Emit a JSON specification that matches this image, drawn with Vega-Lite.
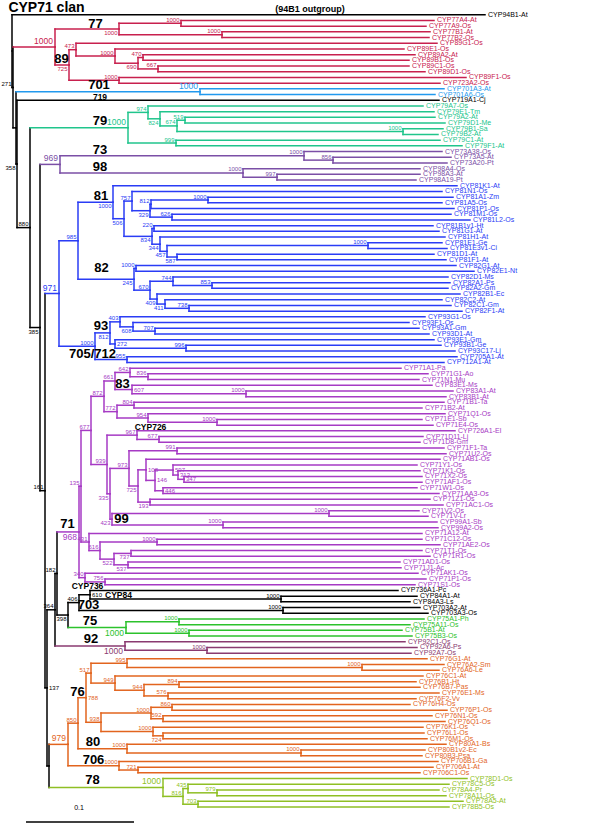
{
"$schema":"https://vega.github.io/schema/vega-lite/v6.json",
"width":592,"height":824,"padding":0,
"autosize":{"type":"fit","contains":"padding"},
"config":{"view":{"stroke":null},"text":{"font":"Liberation Sans"}},
"datasets":{
"nodes":[
{"id":"R","p":null,"x":12,"y":6.37,"c":"k"},
{"id":"L0","p":"R","x":485,"y":0,"c":"k","lab":"CYP94B1-At"},
{"id":"A","p":"R","x":13,"y":12.75,"c":"k","bs":"271"},
{"id":"B","p":"A","x":16,"y":19.84,"c":"k"},
{"id":"C","p":"B","x":17,"y":26.17,"c":"k","bs":"358","below":true},
{"id":"N880","p":"C","x":30,"y":37.34,"c":"k","bs":"880"},
{"id":"N385","p":"N880","x":40,"y":54.87,"c":"k","bs":"385","below":true},
{"id":"N161","p":"N385","x":45,"y":83.49,"c":"k","bs":"161"},
{"id":"N137","p":"N161","x":47,"y":118.08,"c":"k","bs":"137","side":"r"},
{"id":"N364","p":"N137","x":55,"y":104.39,"c":"k","bs":"364"},
{"id":"N182","p":"N364","x":57,"y":98.02,"c":"k","bs":"182"},
{"id":"J","p":"N137","x":49,"y":131.78,"c":"k"},

{"id":"nRed","p":"A","x":55,"y":5.656,"c":"r","bs":"1000","root":true},
{"id":"n77","p":"nRed","x":119,"y":2.5,"c":"r","bs":"1000","below":true},
{"id":"n77A","p":"n77","x":181,"y":1.5,"c":"r","bs":"1000"},
{"id":"n77B","p":"n77","x":222,"y":3.5,"c":"r","bs":"1000"},
{"id":"n725","p":"nRed","x":69,"y":8.8125,"c":"r","bs":"725","below":true},
{"id":"n473","p":"n725","x":76,"y":6.125,"c":"r","bs":"473"},
{"id":"n1000c","p":"n473","x":115,"y":7.25,"c":"r","bs":"1000"},
{"id":"n690","p":"n1000c","x":138,"y":8.5,"c":"r","bs":"690","below":true},
{"id":"n470","p":"n690","x":143,"y":7.5,"c":"r","bs":"470"},
{"id":"n667","p":"n690","x":158,"y":9.5,"c":"r","bs":"667"},
{"id":"n1000b","p":"n725","x":119,"y":11.5,"c":"r","bs":"1000"},
{"id":"L1","p":"n77A","x":434,"y":1,"c":"r","lab":"CYP77A4-At"},
{"id":"L2","p":"n77A","x":426,"y":2,"c":"r","lab":"CYP77A9-Os"},
{"id":"L3","p":"n77B","x":430,"y":3,"c":"r","lab":"CYP77B1-At"},
{"id":"L4","p":"n77B","x":429,"y":4,"c":"r","lab":"CYP77B2-Os"},
{"id":"L5","p":"n473","x":437,"y":5,"c":"r","lab":"CYP89G1-Os"},
{"id":"L6","p":"n1000c","x":404,"y":6,"c":"r","lab":"CYP89E1-Os"},
{"id":"L7","p":"n470","x":415,"y":7,"c":"r","lab":"CYP89A2-At"},
{"id":"L8","p":"n470","x":409,"y":8,"c":"r","lab":"CYP89B1-Os"},
{"id":"L9","p":"n667","x":409,"y":9,"c":"r","lab":"CYP89C1-Os"},
{"id":"L10","p":"n667","x":425,"y":10,"c":"r","lab":"CYP89D1-Os"},
{"id":"L11","p":"n1000b","x":466,"y":11,"c":"r","lab":"CYP89F1-Os"},
{"id":"L12","p":"n1000b","x":440,"y":12,"c":"r","lab":"CYP723A2-Os"},

{"id":"n701","p":"B","x":200,"y":13.5,"c":"b701","bs":"1000","root":true},
{"id":"L13","p":"n701","x":444,"y":13,"c":"b701","lab":"CYP701A3-At"},
{"id":"L14","p":"n701","x":435,"y":14,"c":"b701","lab":"CYP701A6-Os"},
{"id":"L15","p":"C","x":439,"y":15,"c":"k","lab":"CYP719A1-Cj"},

{"id":"n79","p":"N880","x":128,"y":19.8125,"c":"g79","bs":"1000","root":true},
{"id":"n974","p":"n79","x":148,"y":17.125,"c":"g79","bs":"974"},
{"id":"n824","p":"n974","x":160,"y":18.25,"c":"g79","bs":"824","below":true},
{"id":"n674","p":"n824","x":177,"y":19.5,"c":"g79","bs":"674"},
{"id":"n519","p":"n674","x":185,"y":18.5,"c":"g79","bs":"519"},
{"id":"n79B","p":"n674","x":403,"y":20.5,"c":"g79","bs":"1000"},
{"id":"n999","p":"n79","x":176,"y":22.5,"c":"g79","bs":"999"},
{"id":"L16","p":"n974","x":423,"y":16,"c":"g79","lab":"CYP79A7-Os"},
{"id":"L17","p":"n824","x":434,"y":17,"c":"g79","lab":"CYP79E1-Tm"},
{"id":"L18","p":"n519","x":435,"y":18,"c":"g79","lab":"CYP79A2-At"},
{"id":"L19","p":"n519","x":445,"y":19,"c":"g79","lab":"CYP79D1-Me"},
{"id":"L20","p":"n79B","x":443,"y":20,"c":"g79","lab":"CYP79B1-Sa"},
{"id":"L21","p":"n79B","x":438,"y":21,"c":"g79","lab":"CYP79B2-At"},
{"id":"L22","p":"n999","x":440,"y":22,"c":"g79","lab":"CYP79C1-At"},
{"id":"L23","p":"n999","x":462,"y":23,"c":"g79","lab":"CYP79F1-At"},

{"id":"n969","p":"N385","x":60,"y":26.25,"c":"p73","bs":"969","root":true},
{"id":"n73","p":"n969","x":304,"y":24.75,"c":"p73","bs":"1000"},
{"id":"n856","p":"n73","x":333,"y":25.5,"c":"p73","bs":"856"},
{"id":"n98","p":"n969","x":243,"y":27.75,"c":"p73","bs":"1000"},
{"id":"n997","p":"n98","x":277,"y":28.5,"c":"p73","bs":"997"},
{"id":"L24","p":"n73","x":442,"y":24,"c":"p73","lab":"CYP73A38-Os"},
{"id":"L25","p":"n856","x":451,"y":25,"c":"p73","lab":"CYP73A5-At"},
{"id":"L26","p":"n856","x":447,"y":26,"c":"p73","lab":"CYP73A20-Pt"},
{"id":"L27","p":"n98","x":420,"y":27,"c":"p73","lab":"CYP98A4-Os"},
{"id":"L28","p":"n997","x":420,"y":28,"c":"p73","lab":"CYP98A3-At"},
{"id":"L29","p":"n997","x":416,"y":29,"c":"p73","lab":"CYP98A19-Pt"},

{"id":"n971","p":"N161","x":59,"y":48.9,"c":"blue","bs":"971","root":true},
{"id":"n985","p":"n971","x":78,"y":39.65,"c":"blue","bs":"985"},
{"id":"n81","p":"n985","x":113,"y":32.89,"c":"blue","bs":"1000","below":true},
{"id":"n506","p":"n81","x":124,"y":35.78,"c":"blue","bs":"506","below":true},
{"id":"n757","p":"n506","x":132,"y":32.6875,"c":"blue","bs":"757"},
{"id":"n329","p":"n757","x":150,"y":34.375,"c":"blue","bs":"329","below":true},
{"id":"n812","p":"n329","x":151,"y":33.25,"c":"blue","bs":"812"},
{"id":"n1000a","p":"n812","x":208,"y":32.5,"c":"blue","bs":"1000"},
{"id":"n626","p":"n329","x":172,"y":35.5,"c":"blue","bs":"626"},
{"id":"n834","p":"n506","x":152,"y":38.875,"c":"blue","bs":"834","below":true},
{"id":"n220","p":"n834","x":154,"y":37.5,"c":"blue","bs":"220"},
{"id":"n344","p":"n834","x":160,"y":40.25,"c":"blue","bs":"344","below":true},
{"id":"n457","p":"n344","x":167,"y":41.5,"c":"blue","bs":"457","below":true},
{"id":"n1000E","p":"n457","x":368,"y":40.5,"c":"blue","bs":"1000"},
{"id":"n587","p":"n457","x":177,"y":42.5,"c":"blue","bs":"587","below":true},
{"id":"n245","p":"n985","x":134,"y":46.41,"c":"blue","bs":"245","below":true},
{"id":"n82G","p":"n245","x":136,"y":44.5,"c":"blue","bs":"1000"},
{"id":"n670","p":"n245","x":150,"y":48.3125,"c":"blue","bs":"670"},
{"id":"n744","p":"n670","x":173,"y":46.75,"c":"blue","bs":"744"},
{"id":"n853","p":"n744","x":212,"y":47.5,"c":"blue","bs":"853"},
{"id":"n409","p":"n670","x":157,"y":49.875,"c":"blue","bs":"409","below":true},
{"id":"n411","p":"n409","x":165,"y":50.75,"c":"blue","bs":"411","below":true},
{"id":"n738","p":"n411","x":189,"y":51.5,"c":"blue","bs":"738"},
{"id":"n1000d","p":"n971","x":95,"y":58.16,"c":"blue","bs":"1000"},
{"id":"n812b","p":"n1000d","x":110,"y":55.81,"c":"blue","bs":"812","below":true},
{"id":"n403","p":"n812b","x":120,"y":53.875,"c":"blue","bs":"403"},
{"id":"n608","p":"n403","x":133,"y":54.75,"c":"blue","bs":"608","below":true},
{"id":"n707","p":"n608","x":155,"y":55.5,"c":"blue","bs":"707"},
{"id":"n272","p":"n812b","x":115,"y":57.75,"c":"blue","bs":"272","side":"r"},
{"id":"n996","p":"n272","x":186,"y":58.5,"c":"blue","bs":"996"},
{"id":"n955","p":"n1000d","x":127,"y":60.5,"c":"blue","bs":"955"},
{"id":"L30","p":"n81","x":457,"y":30,"c":"blue","lab":"CYP81K1-At"},
{"id":"L31","p":"n757","x":442,"y":31,"c":"blue","lab":"CYP81N1-Os"},
{"id":"L32","p":"n1000a","x":453,"y":32,"c":"blue","lab":"CYP81A1-Zm"},
{"id":"L33","p":"n1000a","x":442,"y":33,"c":"blue","lab":"CYP81A5-Os"},
{"id":"L34","p":"n812","x":454,"y":34,"c":"blue","lab":"CYP81P1-Os"},
{"id":"L35","p":"n626","x":451,"y":35,"c":"blue","lab":"CYP81M1-Os"},
{"id":"L36","p":"n626","x":470,"y":36,"c":"blue","lab":"CYP81L2-Os"},
{"id":"L37","p":"n220","x":433,"y":37,"c":"blue","lab":"CYP81B1v1-Ht"},
{"id":"L38","p":"n220","x":439,"y":38,"c":"blue","lab":"CYP81G1-At"},
{"id":"L39","p":"n344","x":445,"y":39,"c":"blue","lab":"CYP81H1-At"},
{"id":"L40","p":"n1000E","x":442,"y":40,"c":"blue","lab":"CYP81E1-Ge"},
{"id":"L41","p":"n1000E","x":447,"y":41,"c":"blue","lab":"CYP81E3v1-Ci"},
{"id":"L42","p":"n587","x":434,"y":42,"c":"blue","lab":"CYP81D1-At"},
{"id":"L43","p":"n587","x":446,"y":43,"c":"blue","lab":"CYP81F1-At"},
{"id":"L44","p":"n82G","x":456,"y":44,"c":"blue","lab":"CYP82G1-At"},
{"id":"L45","p":"n82G","x":474,"y":45,"c":"blue","lab":"CYP82E1-Nt"},
{"id":"L46","p":"n744","x":448,"y":46,"c":"blue","lab":"CYP82D1-Ms"},
{"id":"L47","p":"n853","x":450,"y":47,"c":"blue","lab":"CYP82A1-Ps"},
{"id":"L48","p":"n853","x":448,"y":48,"c":"blue","lab":"CYP82A2-Gm"},
{"id":"L49","p":"n409","x":460,"y":49,"c":"blue","lab":"CYP82B1-Ec"},
{"id":"L50","p":"n411","x":442,"y":50,"c":"blue","lab":"CYP82C2-At"},
{"id":"L51","p":"n738","x":451,"y":51,"c":"blue","lab":"CYP82C1-Gm"},
{"id":"L52","p":"n738","x":462,"y":52,"c":"blue","lab":"CYP82F1-At"},
{"id":"L53","p":"n403","x":425,"y":53,"c":"blue","lab":"CYP93G1-Os"},
{"id":"L54","p":"n608","x":409,"y":54,"c":"blue","lab":"CYP93F1-Os"},
{"id":"L55","p":"n707","x":419,"y":55,"c":"blue","lab":"CYP93A1-Gm"},
{"id":"L56","p":"n707","x":429,"y":56,"c":"blue","lab":"CYP93D1-At"},
{"id":"L57","p":"n272","x":434,"y":57,"c":"blue","lab":"CYP93E1-Gm"},
{"id":"L58","p":"n996","x":441,"y":58,"c":"blue","lab":"CYP93B1-Ge"},
{"id":"L59","p":"n996","x":455,"y":59,"c":"blue","lab":"CYP93C17-Lj"},
{"id":"L60","p":"n955","x":457,"y":60,"c":"blue","lab":"CYP705A1-At"},
{"id":"L61","p":"n955","x":444,"y":61,"c":"blue","lab":"CYP712A1-At"},

{"id":"n968","p":"N182","x":79,"y":90.73,"c":"m71","bs":"968","root":true,"below":true},
{"id":"n135","p":"n968","x":81,"y":82.71,"c":"m71","bs":"135"},
{"id":"n677","p":"n135","x":91,"y":72.92,"c":"m71","bs":"677"},
{"id":"n872","p":"n677","x":104,"y":66.9375,"c":"m71","bs":"872"},
{"id":"n661","p":"n872","x":115,"y":64.25,"c":"m71","bs":"661"},
{"id":"n642","p":"n661","x":130,"y":62.75,"c":"m71","bs":"642"},
{"id":"n836","p":"n642","x":148,"y":63.5,"c":"m71","bs":"836"},
{"id":"n607","p":"n661","x":132,"y":65.75,"c":"m71","bs":"607","side":"r"},
{"id":"n83A","p":"n607","x":246,"y":66.5,"c":"m71","bs":"1000"},
{"id":"n772","p":"n872","x":117,"y":69.625,"c":"m71","bs":"772"},
{"id":"n804","p":"n772","x":134,"y":68.5,"c":"m71","bs":"804"},
{"id":"n954","p":"n772","x":148,"y":70.75,"c":"m71","bs":"954"},
{"id":"n1000e","p":"n954","x":217,"y":71.5,"c":"m71","bs":"1000"},
{"id":"n939","p":"n677","x":107,"y":78.9,"c":"m71","bs":"939"},
{"id":"n967","p":"n939","x":137,"y":73.75,"c":"m71","bs":"967"},
{"id":"n677b","p":"n967","x":159,"y":74.5,"c":"m71","bs":"677"},
{"id":"n335","p":"n939","x":110,"y":84.04,"c":"m71","bs":"335","below":true},
{"id":"n973","p":"n335","x":129,"y":79.585,"c":"m71","bs":"973"},
{"id":"n991","p":"n973","x":177,"y":76.5,"c":"m71","bs":"991"},
{"id":"n725b","p":"n973","x":138,"y":82.67,"c":"m71","bs":"725","below":true},
{"id":"n108","p":"n725b","x":146,"y":79.84,"c":"m71","bs":"108","side":"r"},
{"id":"n146","p":"n108","x":155,"y":81.6875,"c":"m71","bs":"146","side":"r"},
{"id":"n597","p":"n146","x":173,"y":79.875,"c":"m71","bs":"597","side":"r"},
{"id":"n313","p":"n597","x":178,"y":80.75,"c":"m71","bs":"313","side":"r"},
{"id":"n347","p":"n313","x":184,"y":81.5,"c":"m71","bs":"347","side":"r"},
{"id":"n446","p":"n146","x":163,"y":83.5,"c":"m71","bs":"446","side":"r"},
{"id":"n193","p":"n725b","x":150,"y":85.5,"c":"m71","bs":"193","below":true},
{"id":"n423","p":"n335","x":112,"y":88.5,"c":"m71","bs":"423","below":true},
{"id":"n99V","p":"n423","x":329,"y":87.5,"c":"m71","bs":"1000"},
{"id":"n99","p":"n423","x":223,"y":89.5,"c":"m71","bs":"1000"},
{"id":"n431","p":"n135","x":89,"y":92.5,"c":"m71","bs":"431"},
{"id":"n616","p":"n431","x":100,"y":94,"c":"m71","bs":"616"},
{"id":"n1000h","p":"n616","x":157,"y":92.5,"c":"m71","bs":"1000"},
{"id":"n522","p":"n616","x":114,"y":95.5,"c":"m71","bs":"522","below":true},
{"id":"n737","p":"n522","x":131,"y":94.5,"c":"m71","bs":"737","below":true},
{"id":"n537","p":"n522","x":128,"y":96.5,"c":"m71","bs":"537","below":true},
{"id":"n340","p":"n968","x":85,"y":98.75,"c":"m71","bs":"340"},
{"id":"n756","p":"n340","x":105,"y":99.5,"c":"m71","bs":"756"},
{"id":"L62","p":"n642","x":401,"y":62,"c":"m71","lab":"CYP71A1-Pa"},
{"id":"L63","p":"n836","x":428,"y":63,"c":"m71","lab":"CYP71G1-Ao"},
{"id":"L64","p":"n836","x":419,"y":64,"c":"m71","lab":"CYP71N1-Mu"},
{"id":"L65","p":"n607","x":432,"y":65,"c":"m71","lab":"CYP83E1-Ms"},
{"id":"L66","p":"n83A","x":453,"y":66,"c":"m71","lab":"CYP83A1-At"},
{"id":"L67","p":"n83A","x":446,"y":67,"c":"m71","lab":"CYP83B1-At"},
{"id":"L68","p":"n804","x":444,"y":68,"c":"m71","lab":"CYP71B1-Ta"},
{"id":"L69","p":"n804","x":422,"y":69,"c":"m71","lab":"CYP71B2-At"},
{"id":"L70","p":"n954","x":445,"y":70,"c":"m71","lab":"CYP71Q1-Os"},
{"id":"L71","p":"n1000e","x":422,"y":71,"c":"m71","lab":"CYP71E1-Sb"},
{"id":"L72","p":"n1000e","x":433,"y":72,"c":"m71","lab":"CYP71E4-Os"},
{"id":"L73","p":"n967","x":455,"y":73,"c":"m71","lab":"CYP726A1-El"},
{"id":"L74","p":"n677b","x":423,"y":74,"c":"m71","lab":"CYP71D11-Lj"},
{"id":"L75","p":"n677b","x":420,"y":75,"c":"m71","lab":"CYP71D8-Gm"},
{"id":"L76","p":"n991","x":444,"y":76,"c":"m71","lab":"CYP71F1-Ta"},
{"id":"L77","p":"n991","x":446,"y":77,"c":"m71","lab":"CYP71U2-Os"},
{"id":"L78","p":"n108","x":440,"y":78,"c":"m71","lab":"CYP71AB1-Os"},
{"id":"L79","p":"n597","x":417,"y":79,"c":"m71","lab":"CYP71Y1-Os"},
{"id":"L80","p":"n313","x":420,"y":80,"c":"m71","lab":"CYP71K1-Os"},
{"id":"L81","p":"n347","x":422,"y":81,"c":"m71","lab":"CYP71X2-Os"},
{"id":"L82","p":"n347","x":422,"y":82,"c":"m71","lab":"CYP71AF1-Os"},
{"id":"L83","p":"n446","x":417,"y":83,"c":"m71","lab":"CYP71W1-Os"},
{"id":"L84","p":"n446","x":439,"y":84,"c":"m71","lab":"CYP71AA3-Os"},
{"id":"L85","p":"n193","x":430,"y":85,"c":"m71","lab":"CYP71Z1-Os"},
{"id":"L86","p":"n193","x":443,"y":86,"c":"m71","lab":"CYP71AC1-Os"},
{"id":"L87","p":"n99V","x":419,"y":87,"c":"m71","lab":"CYP71V2-Os"},
{"id":"L88","p":"n99V","x":428,"y":88,"c":"m71","lab":"CYP71V-Lr"},
{"id":"L89","p":"n99","x":437,"y":89,"c":"m71","lab":"CYP99A1-Sb"},
{"id":"L90","p":"n99","x":438,"y":90,"c":"m71","lab":"CYP99A2-Os"},
{"id":"L91","p":"n431","x":422,"y":91,"c":"m71","lab":"CYP71A12-At"},
{"id":"L92","p":"n1000h","x":422,"y":92,"c":"m71","lab":"CYP71C12-Os"},
{"id":"L93","p":"n1000h","x":440,"y":93,"c":"m71","lab":"CYP71AE2-Os"},
{"id":"L94","p":"n737","x":422,"y":94,"c":"m71","lab":"CYP71T1-Os"},
{"id":"L95","p":"n737","x":430,"y":95,"c":"m71","lab":"CYP71R1-Os"},
{"id":"L96","p":"n537","x":400,"y":96,"c":"m71","lab":"CYP71AD1-Os"},
{"id":"L97","p":"n537","x":401,"y":97,"c":"m71","lab":"CYP71J1-Ac"},
{"id":"L98","p":"n340","x":418,"y":98,"c":"m71","lab":"CYP71AK1-Os"},
{"id":"L99","p":"n756","x":426,"y":99,"c":"m71","lab":"CYP71P1-Os"},
{"id":"L100","p":"n756","x":415,"y":100,"c":"m71","lab":"CYP71S1-Os"},

{"id":"n398","p":"N182","x":68,"y":105.31,"c":"k","bs":"398","below":true},
{"id":"n406","p":"n398","x":79,"y":103.125,"c":"k","bs":"406"},
{"id":"n610","p":"n406","x":90,"y":101.75,"c":"k","bs":"610","side":"r"},
{"id":"n84","p":"n610","x":281,"y":102.5,"c":"k","bs":"1000"},
{"id":"n703","p":"n406","x":283,"y":104.5,"c":"k","bs":"1000"},
{"id":"L101","p":"n610","x":398,"y":101,"c":"k","lab":"CYP736A1-Pc"},
{"id":"L102","p":"n84","x":417,"y":102,"c":"k","lab":"CYP84A1-At"},
{"id":"L103","p":"n84","x":410,"y":103,"c":"k","lab":"CYP84A3-Ls"},
{"id":"L104","p":"n703","x":420,"y":104,"c":"k","lab":"CYP703A2-At"},
{"id":"L105","p":"n703","x":428,"y":105,"c":"k","lab":"CYP703A3-Os"},

{"id":"n75","p":"n398","x":126,"y":107.5,"c":"g75","bs":"1000","root":true,"below":true},
{"id":"n75A","p":"n75","x":179,"y":106.5,"c":"g75","bs":"1000"},
{"id":"n75B","p":"n75","x":189,"y":108.5,"c":"g75","bs":"1000"},
{"id":"L106","p":"n75A","x":424,"y":106,"c":"g75","lab":"CYP75A1-Ph"},
{"id":"L107","p":"n75A","x":410,"y":107,"c":"g75","lab":"CYP75A11-Os"},
{"id":"L108","p":"n75B","x":402,"y":108,"c":"g75","lab":"CYP75B1-At"},
{"id":"L109","p":"n75B","x":412,"y":109,"c":"g75","lab":"CYP75B3-Os"},

{"id":"n92","p":"N364","x":125,"y":110.75,"c":"m92","bs":"1000","root":true,"below":true},
{"id":"n92A","p":"n92","x":207,"y":111.5,"c":"m92","bs":"1000"},
{"id":"L110","p":"n92","x":405,"y":110,"c":"m92","lab":"CYP92C1-Os"},
{"id":"L111","p":"n92A","x":417,"y":111,"c":"m92","lab":"CYP92A6-Ps"},
{"id":"L112","p":"n92A","x":411,"y":112,"c":"m92","lab":"CYP92A7-Os"},

{"id":"n979","p":"J","x":68,"y":128.0,"c":"o76","bs":"979","root":true},
{"id":"n850","p":"n979","x":78,"y":124.28,"c":"o76","bs":"850"},
{"id":"n788","p":"n850","x":86,"y":119.81,"c":"o76","bs":"788","side":"r"},
{"id":"n517","p":"n788","x":91,"y":115.5,"c":"o76","bs":"517"},
{"id":"n995","p":"n517","x":127,"y":113.75,"c":"o76","bs":"995"},
{"id":"n76A","p":"n995","x":362,"y":114.5,"c":"o76","bs":"1000"},
{"id":"n949","p":"n517","x":115,"y":117.25,"c":"o76","bs":"949"},
{"id":"n944","p":"n949","x":144,"y":118.5,"c":"o76","bs":"944"},
{"id":"n894","p":"n944","x":179,"y":117.5,"c":"o76","bs":"894"},
{"id":"n576","p":"n944","x":168,"y":119.5,"c":"o76","bs":"576"},
{"id":"n938","p":"n788","x":101,"y":124.125,"c":"o76","bs":"938"},
{"id":"n1000f","p":"n938","x":151,"y":122.5,"c":"o76","bs":"1000"},
{"id":"n860","p":"n1000f","x":172,"y":121.5,"c":"o76","bs":"860"},
{"id":"n592","p":"n1000f","x":163,"y":123.5,"c":"o76","bs":"592"},
{"id":"n1000g","p":"n938","x":153,"y":125.75,"c":"o76","bs":"1000"},
{"id":"n724","p":"n1000g","x":163,"y":126.5,"c":"o76","bs":"724","below":true},
{"id":"n80","p":"n850","x":127,"y":128.75,"c":"o76","bs":"1000"},
{"id":"n80B","p":"n80","x":301,"y":129.5,"c":"o76","bs":"1000"},
{"id":"n706","p":"n979","x":119,"y":131.75,"c":"o76","bs":"1000"},
{"id":"n721","p":"n706","x":138,"y":132.5,"c":"o76","bs":"721"},
{"id":"L113","p":"n995","x":427,"y":113,"c":"o76","lab":"CYP76G1-At"},
{"id":"L114","p":"n76A","x":444,"y":114,"c":"o76","lab":"CYP76A2-Sm"},
{"id":"L115","p":"n76A","x":439,"y":115,"c":"o76","lab":"CYP76A6-Le"},
{"id":"L116","p":"n949","x":423,"y":116,"c":"o76","lab":"CYP76C1-At"},
{"id":"L117","p":"n894","x":416,"y":117,"c":"o76","lab":"CYP76B1-Ht"},
{"id":"L118","p":"n894","x":420,"y":118,"c":"o76","lab":"CYP76B7-Pas"},
{"id":"L119","p":"n576","x":439,"y":119,"c":"o76","lab":"CYP76E1-Ms"},
{"id":"L120","p":"n576","x":416,"y":120,"c":"o76","lab":"CYP76F2-Vv"},
{"id":"L121","p":"n860","x":410,"y":121,"c":"o76","lab":"CYP76H4-Os"},
{"id":"L122","p":"n860","x":447,"y":122,"c":"o76","lab":"CYP76P1-Os"},
{"id":"L123","p":"n592","x":432,"y":123,"c":"o76","lab":"CYP76N1-Os"},
{"id":"L124","p":"n592","x":445,"y":124,"c":"o76","lab":"CYP76Q1-Os"},
{"id":"L125","p":"n1000g","x":423,"y":125,"c":"o76","lab":"CYP76K1-Os"},
{"id":"L126","p":"n724","x":424,"y":126,"c":"o76","lab":"CYP76L1-Os"},
{"id":"L127","p":"n724","x":427,"y":127,"c":"o76","lab":"CYP76M1-Os"},
{"id":"L128","p":"n80","x":446,"y":128,"c":"o76","lab":"CYP80A1-Bs"},
{"id":"L129","p":"n80B","x":425,"y":129,"c":"o76","lab":"CYP80B1v2-Ec"},
{"id":"L130","p":"n80B","x":422,"y":130,"c":"o76","lab":"CYP80B3-Psa"},
{"id":"L131","p":"n706","x":438,"y":131,"c":"o76","lab":"CYP706B1-Ga"},
{"id":"L132","p":"n721","x":433,"y":132,"c":"o76","lab":"CYP706A1-At"},
{"id":"L133","p":"n721","x":420,"y":133,"c":"o76","lab":"CYP706C1-Os"},

{"id":"n78","p":"J","x":163,"y":135.56,"c":"y78","bs":"1000","root":true},
{"id":"n816","p":"n78","x":183,"y":137.125,"c":"y78","bs":"816"},
{"id":"n435","p":"n816","x":188,"y":135.75,"c":"y78","bs":"435"},
{"id":"n979b","p":"n435","x":217,"y":136.5,"c":"y78","bs":"979"},
{"id":"n703b","p":"n816","x":198,"y":138.5,"c":"y78","bs":"703"},
{"id":"L134","p":"n78","x":467,"y":134,"c":"y78","lab":"CYP78D1-Os"},
{"id":"L135","p":"n435","x":449,"y":135,"c":"y78","lab":"CYP78C5-Os"},
{"id":"L136","p":"n979b","x":439,"y":136,"c":"y78","lab":"CYP78A4-Pr"},
{"id":"L137","p":"n979b","x":446,"y":137,"c":"y78","lab":"CYP78A11-Os"},
{"id":"L138","p":"n703b","x":463,"y":138,"c":"y78","lab":"CYP78A5-At"},
{"id":"L139","p":"n703b","x":449,"y":139,"c":"y78","lab":"CYP78B5-Os"}
],
"clades":[
{"t":"77","x":95.5,"y":1.61,"big":true},
{"t":"89","x":61.5,"y":7.75,"big":true},
{"t":"701","x":99,"y":12.35,"big":true},
{"t":"719","x":100,"y":14.45,"big":false},
{"t":"79","x":100,"y":18.61,"big":true},
{"t":"73","x":100,"y":23.69,"big":true},
{"t":"98","x":100,"y":26.67,"big":true},
{"t":"81","x":101,"y":31.75,"big":true},
{"t":"82","x":101.5,"y":44.37,"big":true},
{"t":"93","x":101,"y":54.53,"big":true},
{"t":"705/712","x":92.5,"y":59.6,"big":true},
{"t":"83","x":122.5,"y":64.7,"big":true},
{"t":"CYP726","x":150.5,"y":72.4,"big":false},
{"t":"99","x":121.5,"y":88.53,"big":true},
{"t":"71","x":67.5,"y":89.4,"big":true},
{"t":"CYP736","x":87.5,"y":100.27,"big":false},
{"t":"CYP84","x":118.5,"y":101.85,"big":false},
{"t":"703","x":88.5,"y":103.6,"big":true},
{"t":"75","x":90,"y":106.4,"big":true},
{"t":"92","x":91,"y":109.55,"big":true},
{"t":"76","x":77.5,"y":118.8,"big":true},
{"t":"80","x":93,"y":127.6,"big":true},
{"t":"706","x":93.5,"y":130.7,"big":true},
{"t":"78","x":92.5,"y":134.26,"big":true}
]
},
"encoding":{
"x":{"field":"x","type":"quantitative","scale":{"domain":[0,592],"nice":false,"zero":false},"axis":null},
"y":{"field":"y","type":"quantitative","scale":{"domain":[-2.416,141.97],"nice":false,"zero":false,"reverse":true},"axis":null}
},
"layer":[
{"data":{"name":"nodes"},
 "transform":[{"filter":"datum.p != null"},{"lookup":"p","from":{"data":{"name":"nodes"},"key":"id","fields":["x","y","c"]},"as":["px","py","pc"]}],
 "mark":{"type":"rule","strokeWidth":1.5,"strokeCap":"square"},
 "encoding":{"x":{"field":"px","type":"quantitative"},"y":{"field":"py","type":"quantitative"},"y2":{"field":"y"},
  "color":{"field":"pc","type":"nominal","legend":null,"scale":{"domain":["k","r","b701","g79","p73","blue","m71","g75","m92","o76","y78"],"range":["#000000","#c8204e","#2299ee","#20c58c","#7b4fa6","#2a3cf5","#a63ac4","#2cc22c","#8a3a70","#e2641e","#8fbf24"]}}}},
{"data":{"name":"nodes"},
 "transform":[{"filter":"datum.p != null"},{"lookup":"p","from":{"data":{"name":"nodes"},"key":"id","fields":["x","y","c"]},"as":["px","py","pc"]}],
 "mark":{"type":"rule","strokeWidth":1.5,"strokeCap":"square"},
 "encoding":{"x":{"field":"px","type":"quantitative"},"x2":{"field":"x"},"y":{"field":"y","type":"quantitative"},
  "color":{"field":"c","type":"nominal","legend":null}}},
{"data":{"name":"nodes"},
 "transform":[{"filter":"isValid(datum.lab)"}],
 "mark":{"type":"text","align":"left","baseline":"middle","dx":3,"fontSize":7},
 "encoding":{"text":{"field":"lab"},"color":{"field":"c","type":"nominal","legend":null}}},
{"data":{"name":"nodes"},
 "transform":[{"filter":"isValid(datum.bs) && datum.below !== true && datum.root !== true && datum.side !== 'r'"}],
 "mark":{"type":"text","align":"right","baseline":"middle","dx":-1.5,"dy":-3.5,"fontSize":6},
 "encoding":{"text":{"field":"bs"},"color":{"field":"c","type":"nominal","legend":null}}},
{"data":{"name":"nodes"},
 "transform":[{"filter":"isValid(datum.bs) && datum.below === true && datum.root !== true && datum.side !== 'r'"}],
 "mark":{"type":"text","align":"right","baseline":"middle","dx":-1.5,"dy":4,"fontSize":6},
 "encoding":{"text":{"field":"bs"},"color":{"field":"c","type":"nominal","legend":null}}},
{"data":{"name":"nodes"},
 "transform":[{"filter":"datum.side === 'r'"}],
 "mark":{"type":"text","align":"left","baseline":"middle","dx":2,"dy":0,"fontSize":6},
 "encoding":{"text":{"field":"bs"},"color":{"field":"c","type":"nominal","legend":null}}},
{"data":{"name":"nodes"},
 "transform":[{"filter":"datum.root === true && datum.below !== true"}],
 "mark":{"type":"text","align":"right","baseline":"middle","dx":-2,"dy":-6,"fontSize":8.5},
 "encoding":{"text":{"field":"bs"},"color":{"field":"c","type":"nominal","legend":null}}},
{"data":{"name":"nodes"},
 "transform":[{"filter":"datum.root === true && datum.below === true"}],
 "mark":{"type":"text","align":"right","baseline":"middle","dx":-2,"dy":5,"fontSize":8.5},
 "encoding":{"text":{"field":"bs"},"color":{"field":"c","type":"nominal","legend":null}}},
{"data":{"name":"clades"},
 "transform":[{"filter":"datum.big"}],
 "mark":{"type":"text","align":"center","baseline":"middle","fontSize":13,"fontWeight":"bold","font":"Liberation Sans Narrow, Liberation Sans","color":"#000"},
 "encoding":{"text":{"field":"t"}}},
{"data":{"name":"clades"},
 "transform":[{"filter":"!datum.big"}],
 "mark":{"type":"text","align":"center","baseline":"middle","fontSize":8.5,"fontWeight":"bold","color":"#000"},
 "encoding":{"text":{"field":"t"}}},
{"data":{"values":[{"t":"CYP71 clan","x":46.5,"y":-1.2}]},
 "mark":{"type":"text","align":"center","baseline":"middle","fontSize":14,"fontWeight":"bold","color":"#000"},
 "encoding":{"text":{"field":"t"}}},
{"data":{"values":[{"t":"(94B1 outgroup)","x":310,"y":-1.0}]},
 "mark":{"type":"text","align":"center","baseline":"middle","fontSize":9,"fontWeight":"bold","color":"#000"},
 "encoding":{"text":{"field":"t"}}},
{"data":{"values":[{"t":"0.1","x":79,"y":139.2}]},
 "mark":{"type":"text","align":"center","baseline":"middle","fontSize":7,"color":"#000"},
 "encoding":{"text":{"field":"t"}}},
{"data":{"values":[{"x":26,"x2":134,"y":141.6}]},
 "mark":{"type":"rule","strokeWidth":1.5,"color":"#000"},
 "encoding":{"x2":{"field":"x2"}}}
]
}
